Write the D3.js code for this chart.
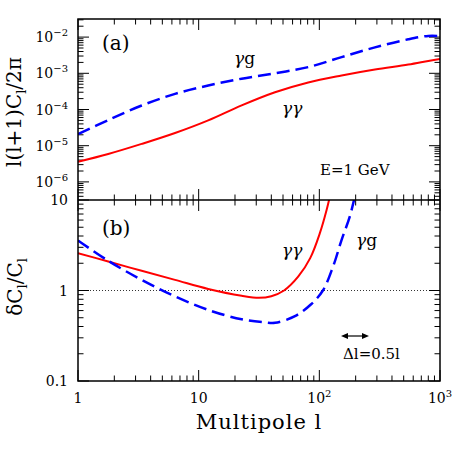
<!DOCTYPE html>
<html><head><meta charset="utf-8">
<script src="https://cdn.jsdelivr.net/npm/d3@7"></script>
<style>body{margin:0;background:#fff}svg{display:block}text{font-family:"DejaVu Serif",serif;fill:#000}</style>
</head><body><svg id="c" width="458" height="458"></svg>
<script>
// ---- data ----
const topL = [1, 1.78, 3.37, 6.37, 12.0, 22.7, 42.9, 80.9, 153, 289, 546, 800, 1000];
const topGG = [3.6e-6, 5.9e-6, 1.12e-5, 2.24e-5, 5.0e-5, 1.3e-4, 3.0e-4, 5.6e-4, 8.7e-4, 1.27e-3, 1.74e-3, 2.2e-3, 2.5e-3];
const topGg = [2.1e-5, 5.1e-5, 1.29e-4, 2.7e-4, 4.6e-4, 7.1e-4, 1.0e-3, 1.48e-3, 2.8e-3, 5.2e-3, 8.7e-3, 1.08e-2, 1.07e-2];
const botGGL = [1, 1.78, 3.37, 6.37, 12, 22.7, 31.6, 40, 51, 67, 84, 101, 115, 125];
const botGG = [2.59, 2.09, 1.65, 1.31, 1.04, 0.875, 0.83, 0.865, 1.0, 1.43, 2.28, 4.3, 7.8, 12.5];
const botGgL = [1, 1.78, 3.37, 6.37, 12, 22.7, 35.5, 42.9, 62.8, 85, 107, 130, 153, 179, 200];
const botGg = [3.57, 2.13, 1.31, 0.86, 0.61, 0.48, 0.445, 0.44, 0.52, 0.70, 1.0, 1.84, 3.63, 6.6, 12];
const xTicks = [1, 10, 100, 1000];
const xTickLabels = [["1",""],["10",""],["10","2"],["10","3"]];
const yTopTicks = [1e-6, 1e-5, 1e-4, 1e-3, 1e-2];
const yTopLabels = [["10","−6"],["10","−5"],["10","−4"],["10","−3"],["10","−2"]];
const yBotTicks = [0.1, 1, 10];
const yBotLabels = ["0.1","1","10"];

// ---- layout ----
const svg = d3.select("#c");
const X0 = 78, X1 = 440, T0 = 19, T1 = 200, B1 = 381;
const x = d3.scaleLog().domain([1, 1000]).range([X0, X1]);
const yT = d3.scaleLog().domain([Math.pow(10,-6.5), Math.pow(10,-1.5)]).range([T1, T0]);
const yB = d3.scaleLog().domain([0.1, 10]).range([B1, T1]);

const defs = svg.append("defs");
defs.append("clipPath").attr("id","ct").append("rect").attr("x",X0).attr("y",T0).attr("width",X1-X0).attr("height",T1-T0);
defs.append("clipPath").attr("id","cb").append("rect").attr("x",X0).attr("y",T1).attr("width",X1-X0).attr("height",B1-T1);

function minorTicks(lo, hi) {
  const out = [];
  for (let e = Math.floor(Math.log10(lo)) - 1; e <= Math.ceil(Math.log10(hi)); e++) {
    for (let m = 1; m <= 9; m++) {
      const v = m * Math.pow(10, e);
      if (v >= lo * 0.999 && v <= hi * 1.001) out.push({v, major: m === 1});
    }
  }
  return out;
}
const tickG = svg.append("g").attr("stroke","#000").attr("stroke-width",1);
function xTickMarks(yPos, dir) {
  minorTicks(1, 1000).forEach(t => {
    const len = t.major ? 11 : 5.5;
    tickG.append("line").attr("x1", x(t.v)).attr("x2", x(t.v)).attr("y1", yPos).attr("y2", yPos + dir*len);
  });
}
function yTickMarks(sc, lo, hi) {
  minorTicks(lo, hi).forEach(t => {
    const len = t.major ? 11 : 5.5;
    const yy = sc(t.v);
    tickG.append("line").attr("x1", X0).attr("x2", X0 + len).attr("y1", yy).attr("y2", yy);
    tickG.append("line").attr("x1", X1).attr("x2", X1 - len).attr("y1", yy).attr("y2", yy);
  });
}
xTickMarks(T0, 1); xTickMarks(T1, -1); xTickMarks(T1, 1); xTickMarks(B1, -1);
yTickMarks(yT, yT.domain()[0], yT.domain()[1]);
yTickMarks(yB, 0.1, 10);

// dotted unity line
svg.append("line").attr("x1",X0).attr("x2",X1).attr("y1",yB(1)).attr("y2",yB(1))
  .attr("stroke","#000").attr("stroke-width",0.8).attr("stroke-dasharray","1,2");

// curves
const lineT = d3.line().x(d => x(d[0])).y(d => yT(d[1])).curve(d3.curveCatmullRom.alpha(0.5));
const lineB = d3.line().x(d => x(d[0])).y(d => yB(d[1])).curve(d3.curveCatmullRom.alpha(0.5));
const gT = svg.append("g").attr("clip-path","url(#ct)");
const gB = svg.append("g").attr("clip-path","url(#cb)");
gT.append("path").attr("d", lineT(d3.zip(topL, topGG))).attr("fill","none").attr("stroke","#ff0000").attr("stroke-width",2);
gT.append("path").attr("d", lineT(d3.zip(topL, topGg))).attr("fill","none").attr("stroke","#0000ff").attr("stroke-width",2.5).attr("stroke-dasharray","13,6");
gB.append("path").attr("d", lineB(d3.zip(botGGL, botGG))).attr("fill","none").attr("stroke","#ff0000").attr("stroke-width",2);
gB.append("path").attr("d", lineB(d3.zip(botGgL, botGg))).attr("fill","none").attr("stroke","#0000ff").attr("stroke-width",2.5).attr("stroke-dasharray","13,6");

// frames
svg.append("rect").attr("x",X0).attr("y",T0).attr("width",X1-X0).attr("height",B1-T0).attr("fill","none").attr("stroke","#000").attr("stroke-width",1.5);
svg.append("line").attr("x1",X0).attr("x2",X1).attr("y1",T1).attr("y2",T1).attr("stroke","#000").attr("stroke-width",1.5);

// tick labels
function powLabel(sel, base, sup) {
  sel.append("tspan").text(base);
  if (sup) sel.append("tspan").attr("font-size", 10).attr("dy", -6).text(sup);
}
xTicks.forEach((v, i) => {
  const t = svg.append("text").attr("x", x(v)).attr("y", 403).attr("font-size", 14).attr("text-anchor","middle");
  powLabel(t, xTickLabels[i][0], xTickLabels[i][1]);
});
yTopTicks.forEach((v, i) => {
  const t = svg.append("text").attr("x", 68).attr("y", yT(v) + 5).attr("font-size", 14).attr("text-anchor","end");
  powLabel(t, yTopLabels[i][0], yTopLabels[i][1]);
});
yBotTicks.forEach((v, i) => {
  svg.append("text").attr("x", 68).attr("y", yB(v) + 5).attr("font-size", 14).attr("text-anchor","end").text(yBotLabels[i]);
});

// axis titles
svg.append("text").attr("x", 259).attr("y", 429).attr("font-size", 21).attr("letter-spacing", 1).attr("text-anchor","middle").text("Multipole l");
const yl1 = svg.append("text").attr("transform","translate(21,112) rotate(-90)").attr("font-size", 20).attr("text-anchor","middle");
yl1.append("tspan").text("l(l+1)C");
yl1.append("tspan").attr("font-size",13).attr("dy",5).text("l");
yl1.append("tspan").attr("dy",-5).text("/2π");
const yl2 = svg.append("text").attr("transform","translate(22,287) rotate(-90)").attr("font-size", 20).attr("text-anchor","middle");
yl2.append("tspan").text("δC");
yl2.append("tspan").attr("font-size",13).attr("dy",5).text("l");
yl2.append("tspan").attr("dy",-5).text("/C");
yl2.append("tspan").attr("font-size",13).attr("dy",5).text("l");

// panel annotations
svg.append("text").attr("x", 102).attr("y", 50).attr("font-size", 20).text("(a)");
svg.append("text").attr("x", 102).attr("y", 235).attr("font-size", 20).text("(b)");
function greek(xp, yp, rest) {
  const t = svg.append("text").attr("x", xp).attr("y", yp).attr("font-size", 17);
  t.append("tspan").attr("font-style","italic").text("γ");
  if (rest === "γ") t.append("tspan").attr("font-style","italic").text("γ");
  else t.append("tspan").text(rest);
}
greek(234, 64, "g");
greek(282, 114, "γ");
greek(282, 256, "γ");
greek(356, 246, "g");
svg.append("text").attr("x", 320).attr("y", 175).attr("font-size", 15).text("E=1 GeV");
svg.append("text").attr("x", 343).attr("y", 359).attr("font-size", 15).text("Δl=0.5l");
// double arrow
const ay = 336, ax0 = 341, ax1 = 369;
svg.append("line").attr("x1", ax0 + 3).attr("x2", ax1 - 3).attr("y1", ay).attr("y2", ay).attr("stroke","#000").attr("stroke-width",1.2);
svg.append("path").attr("d", `M${ax0},${ay} L${ax0+7},${ay-3} L${ax0+7},${ay+3} Z M${ax1},${ay} L${ax1-7},${ay-3} L${ax1-7},${ay+3} Z`).attr("fill","#000");
</script></body></html>
